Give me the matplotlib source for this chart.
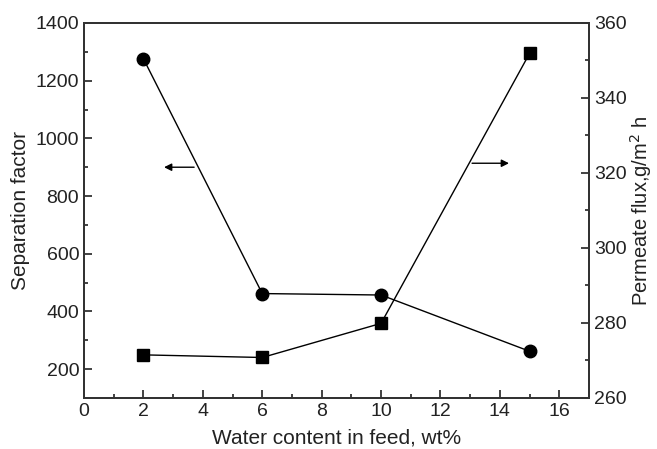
import matplotlib.pyplot as plt
from matplotlib.ticker import MultipleLocator

plt.rcParams['font.family'] = ['Liberation Sans', 'DejaVu Sans']

water = [2, 6, 10, 15]
separation = [1276, 462, 457, 262]
flux = [271.5, 270.8, 279.9, 351.9]

fig = plt.figure(figsize=(6.57, 4.49), dpi=100)
ax = fig.add_axes([0.1279, 0.1136, 0.7686, 0.8352])
ax2 = ax.twinx()

ax.plot(water, separation, color='black', lw=1, marker='o', ms=9)
ax2.plot(water, flux, color='black', lw=1, marker='s', ms=8)

ax.set_xlim(0, 17)
ax.set_ylim(100, 1400)
ax2.set_ylim(260, 360)

ax.xaxis.set_major_locator(MultipleLocator(2))
ax.xaxis.set_minor_locator(MultipleLocator(1))
ax.yaxis.set_major_locator(MultipleLocator(200))
ax.yaxis.set_minor_locator(MultipleLocator(100))
ax2.yaxis.set_major_locator(MultipleLocator(20))
ax2.yaxis.set_minor_locator(MultipleLocator(10))

for a in (ax, ax2):
    a.tick_params(which='both', direction='in', labelsize=14, width=1.2, colors='#222222')
    a.tick_params(which='major', length=6)
    a.tick_params(which='minor', length=3)
    for s in a.spines.values():
        s.set_linewidth(1.4)
        s.set_color('#333333')
ax.tick_params(axis='y', which='both', right=False)
ax2.tick_params(axis='y', which='both', left=False)

ax.set_xlabel('Water content in feed, wt%', fontsize=15, color='#222222', labelpad=6)
ax.set_ylabel('Separation factor', fontsize=15, color='#222222')
ax2.set_ylabel('Permeate flux,g/m$^2$ h', fontsize=14.5, color='#222222', labelpad=1)

ax.annotate('', xy=(2.6, 900), xytext=(3.8, 900),
            arrowprops=dict(arrowstyle='-|>', color='black', lw=1, mutation_scale=11))
ax2.annotate('', xy=(14.4, 322.6), xytext=(12.97, 322.6),
             arrowprops=dict(arrowstyle='-|>', color='black', lw=1, mutation_scale=11))

fig.savefig('out.png', dpi=100)
